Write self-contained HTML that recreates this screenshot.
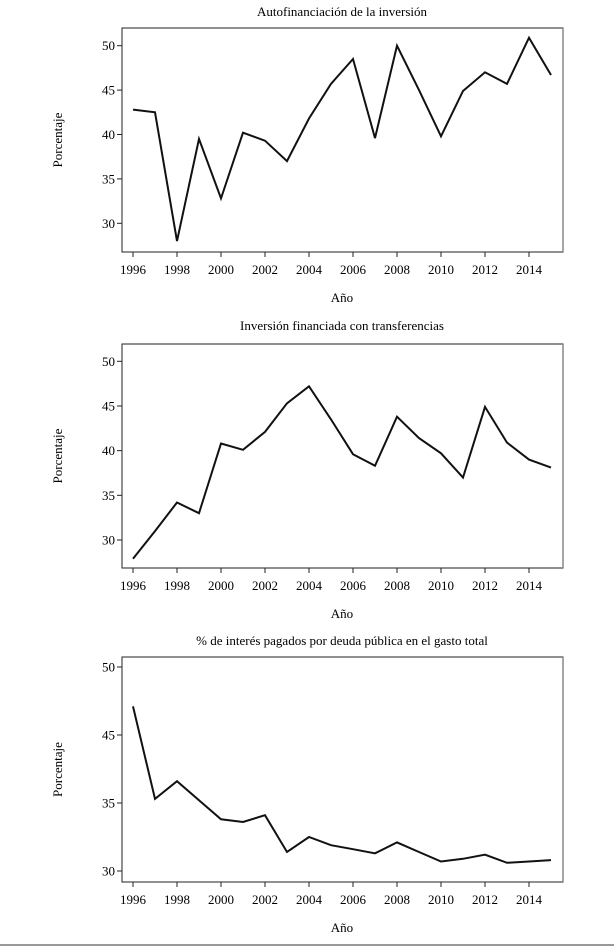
<!DOCTYPE html>
<html><head><meta charset="utf-8">
<style>
html,body{margin:0;padding:0;background:#fff;}
svg{display:block;font-family:"Liberation Serif",serif;}
</style></head>
<body>
<svg id="fig" width="614" height="950" viewBox="0 0 614 950" xmlns="http://www.w3.org/2000/svg">
<line x1="0" y1="945" x2="614" y2="945" stroke="#333" stroke-width="1"/>
</svg>
<script>
const years = [1996,1997,1998,1999,2000,2001,2002,2003,2004,2005,2006,2007,2008,2009,2010,2011,2012,2013,2014,2015];
const xTickYears = [1996,1998,2000,2002,2004,2006,2008,2010,2012,2014];
const autofinValues = [42.8,42.5,28.0,39.5,32.8,40.2,39.3,37.0,41.8,45.7,48.5,39.6,50.0,45.0,39.8,44.9,47.0,45.7,50.9,46.7];
const transferValues = [27.9,31.0,34.2,33.0,40.8,40.1,42.1,45.3,47.2,43.5,39.6,38.3,43.8,41.4,39.7,37.0,44.9,40.9,39.0,38.1];
const interestValues = [42.1,35.3,36.6,35.2,33.8,33.6,34.1,31.4,32.5,31.9,31.6,31.3,32.1,31.4,30.7,30.9,31.2,30.6,30.7,30.8];
const yTicksStd = [30,35,40,45,50];
const yTickLabelsStd = ["30","35","40","45","50"];
const yTicksInterest = [30,35,40,45];
const yTickLabelsInterest = ["30","35","45","50"];

const NS="http://www.w3.org/2000/svg";
const svg=document.getElementById('fig');
function mk(tag,attrs,parent,text){
  const e=document.createElementNS(NS,tag);
  for(const k in attrs)e.setAttribute(k,attrs[k]);
  if(text!==undefined)e.textContent=text;
  (parent||svg).appendChild(e);return e;
}
const X0=122,X1=563;
function xScale(yr){return 133+(yr-1996)*22;}

function drawChart(cfg){
  const g=mk('g',{});
  
  
  const ys=v=>cfg.y30-(v-30)*(cfg.y30-cfg.yTopVal)/(cfg.topVal-30);
  const t=mk('text',{x:342,y:cfg.titleY,'text-anchor':'middle','font-size':'13'},g,cfg.title);
  
  
  const box=mk('rect',{x:X0,y:cfg.top,width:X1-X0,height:cfg.bottom-cfg.top,fill:'none',stroke:'#222','stroke-width':'1'},g);
  
  
  const rb=mk('line',{x1:X1,y1:cfg.top,x2:X1,y2:cfg.bottom,stroke:'#888','stroke-width':'1.5'},g);
  
  
  cfg.ticks.forEach((v,i)=>{
    const y=ys(v);
    const tk=mk('line',{x1:X0-5,y1:y,x2:X0,y2:y,stroke:'#222'},g);
    
    
    const lb=mk('text',{x:X0-7,y:y+4.5,'text-anchor':'end','font-size':'13'},g,cfg.labels[i]);
    
    
  });
  xTickYears.forEach(yr=>{
    const x=xScale(yr);
    const tk=mk('line',{x1:x,y1:cfg.bottom,x2:x,y2:cfg.bottom+5,stroke:'#222'},g);
    
    
    const lb=mk('text',{x:x,y:cfg.bottom+22,'text-anchor':'middle','font-size':'13'},g,String(yr));
    
    
  });
  const xt=mk('text',{x:342,y:cfg.bottom+50,'text-anchor':'middle','font-size':'13'},g,'Año');
  
  
  const cy=(cfg.top+cfg.bottom)/2;
  const yt=mk('text',{x:62,y:cy,'text-anchor':'middle','font-size':'13',transform:`rotate(-90 62 ${cy})`},g,'Porcentaje');
  
  
  const pts=cfg.values.map((v,i)=>xScale(years[i]).toFixed(1)+','+ys(v).toFixed(1)).join(' ');
  const pl=mk('polyline',{points:pts,fill:'none',stroke:'#111','stroke-width':'2','stroke-linejoin':'miter'},g);
  
  
}
drawChart({name:'autofinanciacion-chart',title:'Autofinanciación de la inversión',titleY:16,top:28,bottom:252,y30:223.3,topVal:50,yTopVal:45.7,values:autofinValues,ticks:yTicksStd,labels:yTickLabelsStd});
drawChart({name:'transferencias-chart',title:'Inversión financiada con transferencias',titleY:330,top:344,bottom:568,y30:540,topVal:50,yTopVal:361.3,values:transferValues,ticks:yTicksStd,labels:yTickLabelsStd});
drawChart({name:'intereses-chart',title:'% de interés pagados por deuda pública en el gasto total',titleY:645,top:657,bottom:882,y30:871,topVal:45,yTopVal:667,values:interestValues,ticks:yTicksInterest,labels:yTickLabelsInterest});
</script>
</body></html>
